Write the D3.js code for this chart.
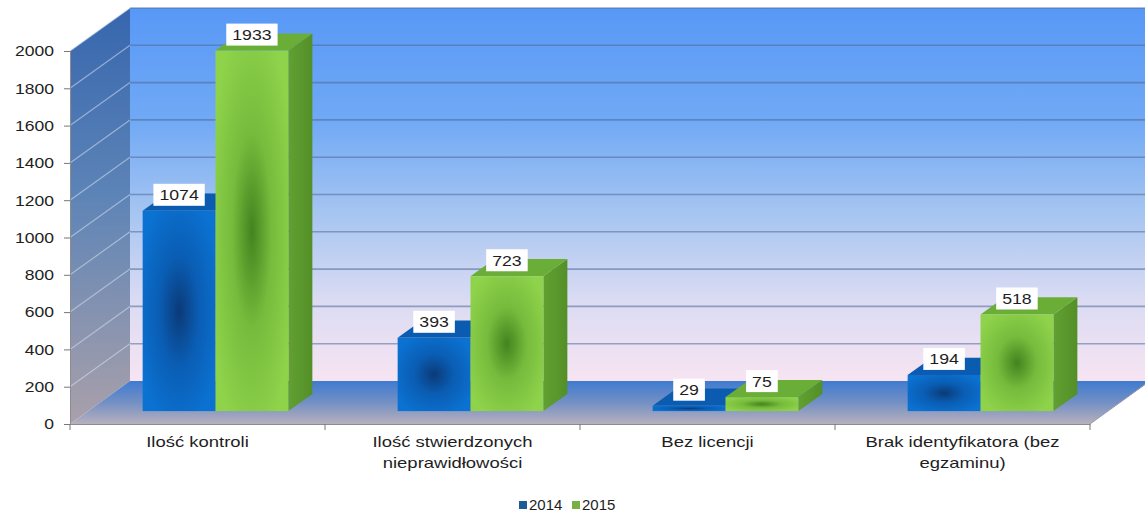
<!DOCTYPE html>
<html>
<head>
<meta charset="utf-8">
<script src="https://cdn.jsdelivr.net/npm/d3@7"></script>
<style>
  body { margin: 0; background: #fff; }
  svg { display: block; }
  text { font-family: "Liberation Sans", Arial, sans-serif; fill: #1e1e1e; }
</style>
</head>
<body>
<svg id="chart" width="1145" height="515"></svg>
<script>
// ---- data ----
const categories = ["Ilość kontroli", "Ilość stwierdzonych\nnieprawidłowości", "Bez licencji", "Brak identyfikatora (bez\negzaminu)"];
const seriesNames = ["2014", "2015"];
const values2014 = [1074, 393, 29, 194];
const values2015 = [1933, 723, 75, 518];
const yTicks = [0, 200, 400, 600, 800, 1000, 1200, 1400, 1600, 1800, 2000];

const seriesValues = { "2014": values2014, "2015": values2015 };

// ---- layout ----
const svg = d3.select("#chart");
const plot = { left: 70, right: 1090, bottom: 424, top: 51 };
const depthX = 60, depthY = -43;          // full depth of the 3D box
const barFront = 0.30, barBack = 0.70;    // bar depth as a fraction of the box

const x = d3.scaleBand().domain(categories).range([plot.left, plot.right]).padding(0);
const xs = d3.scaleBand().domain(seriesNames).range([0, x.bandwidth()]).paddingInner(0).paddingOuter(0.75);
const y = d3.scaleLinear().domain([0, 2000]).range([plot.bottom, plot.top]);

// project a point at depth d (0 = front plane, 1 = back wall)
const P = (px, py, d) => [px + depthX * d, py + depthY * d];
const poly = pts => pts.map(p => p.join(",")).join(" ");

// ---- gradients ----
const defs = svg.append("defs");
function linear(id, x1, y1, x2, y2, stops, units) {
  const g = defs.append("linearGradient").attr("id", id)
    .attr("gradientUnits", units || "userSpaceOnUse")
    .attr("x1", x1).attr("y1", y1).attr("x2", x2).attr("y2", y2);
  stops.forEach(([o, c]) => g.append("stop").attr("offset", o).attr("stop-color", c));
}
const backTop = P(0, y(2000), 1)[1], backBottom = P(0, y(0), 1)[1];
linear("backWall", 0, backTop, 0, backBottom,
  [[0, "#5898f6"], [0.3, "#70a9f5"], [0.55, "#a6c5f1"], [0.78, "#dadbf3"], [1, "#f7e4f2"]]);
linear("leftWall", 0, backTop, 0, plot.bottom,
  [[0, "#3766ae"], [0.45, "#5d84b7"], [1, "#aaa0aa"]]);
linear("floor", 0, backBottom, 0, plot.bottom,
  [[0, "#3f7bd0"], [0.5, "#7390c4"], [1, "#b8b0bc"]]);

function radial(id, inner, mid, outer) {
  const g = defs.append("radialGradient").attr("id", id)
    .attr("cx", 0.5).attr("cy", 0.5).attr("r", 0.6);
  g.append("stop").attr("offset", 0).attr("stop-color", inner);
  g.append("stop").attr("offset", 0.45).attr("stop-color", mid);
  g.append("stop").attr("offset", 1).attr("stop-color", outer);
}
radial("front2014", "#0b3a78", "#0a5db3", "#0b72d2");
radial("front2015", "#44831f", "#76bb3c", "#8fd34b");
linear("side2015", 0, 0, 1, 0, [[0, "#62a032"], [1, "#538f27"]], "objectBoundingBox");

const colors = {
  "2014": { front: "url(#front2014)", top: "#0b5cb0", side: "#0a4f98", legend: "#1f5a96" },
  "2015": { front: "url(#front2015)", top: "#6aae38", side: "url(#side2015)", legend: "#78b043" }
};

// ---- walls & floor ----
svg.append("polygon").attr("fill", "url(#backWall)")
  .attr("points", poly([P(plot.left, y(2000), 1), P(plot.right + 10, y(2000), 1), P(plot.right + 10, y(0), 1), P(plot.left, y(0), 1)]));
svg.append("polygon").attr("fill", "url(#leftWall)")
  .attr("points", poly([P(plot.left, y(2000), 0), P(plot.left, y(2000), 1), P(plot.left, y(0), 1), P(plot.left, y(0), 0)]));
svg.append("polygon").attr("fill", "url(#floor)")
  .attr("points", poly([P(plot.left, y(0), 0), P(plot.left, y(0), 1), P(plot.right, y(0), 1), P(plot.right, y(0), 0)]));

// gridlines on back wall and left wall
const grid = svg.append("g");
yTicks.filter(t => t > 0).forEach(t => {
  const a = P(plot.left, y(t), 1), b = P(plot.right + 10, y(t), 1), c = P(plot.left, y(t), 0);
  grid.append("line").attr("x1", a[0]).attr("y1", a[1]).attr("x2", b[0]).attr("y2", b[1])
    .attr("stroke", "#4f6a93").attr("stroke-opacity", 0.55).attr("stroke-width", 1.6);
  grid.append("line").attr("x1", c[0]).attr("y1", c[1]).attr("x2", a[0]).attr("y2", a[1])
    .attr("stroke", "#d6e2f2").attr("stroke-opacity", 0.55).attr("stroke-width", 1.2);
});

// ---- axes ----
const yAxis = svg.append("g").attr("transform", `translate(${plot.left},0)`)
  .call(d3.axisLeft(y).tickValues(yTicks).tickSize(6).tickPadding(10).tickFormat(d3.format("d")));
yAxis.select(".domain").attr("stroke", "#8c8c8c");
yAxis.selectAll(".tick line").attr("stroke", "#777");
yAxis.selectAll(".tick text").attr("font-size", 15).attr("fill", "#1e1e1e")
  .attr("font-family", "Liberation Sans, Arial, sans-serif")
  .attr("transform", "scale(1.17,1)").attr("x", -16 / 1.17);

const xAxis = svg.append("g").attr("transform", `translate(0,${plot.bottom})`)
  .call(d3.axisBottom(x).tickSize(0).tickFormat(""));
xAxis.select(".domain").attr("stroke", "#8c8c8c");
// category boundary ticks
categories.map(c => x(c)).concat([plot.right]).forEach(px => {
  xAxis.append("line").attr("x1", px).attr("x2", px).attr("y1", 0).attr("y2", 6).attr("stroke", "#777");
});
// floor right edge
const fr0 = P(plot.right, y(0), 0), fr1 = P(plot.right, y(0), 1);
svg.append("line").attr("x1", fr0[0]).attr("y1", fr0[1]).attr("x2", fr1[0]).attr("y2", fr1[1])
  .attr("stroke", "#9a9aa8").attr("stroke-width", 1);

// category labels
const catLabels = svg.append("g");
categories.forEach(c => {
  const cx = x(c) + x.bandwidth() / 2;
  const t = catLabels.append("text").attr("text-anchor", "middle").attr("font-size", 14)
    .attr("transform", `translate(${cx},447) scale(1.32,1)`);
  c.split("\n").forEach((line, i) => t.append("tspan").attr("x", 0).attr("dy", i === 0 ? 0 : 21).text(line));
});

// ---- bars ----
const bars = svg.append("g");
const labels = svg.append("g");
categories.forEach((c, ci) => {
  seriesNames.forEach(s => {
    const v = seriesValues[s][ci];
    const xl = x(c) + xs(s), xr = xl + xs.bandwidth();
    const col = colors[s];
    const fTL = P(xl, y(v), barFront), fTR = P(xr, y(v), barFront);
    const fBR = P(xr, y(0), barFront), fBL = P(xl, y(0), barFront);
    const bTL = P(xl, y(v), barBack), bTR = P(xr, y(v), barBack), bBR = P(xr, y(0), barBack);
    const g = bars.append("g");
    g.append("polygon").attr("fill", col.side).attr("points", poly([fTR, bTR, bBR, fBR]));
    g.append("polygon").attr("fill", col.top).attr("points", poly([fTL, fTR, bTR, bTL]));
    g.append("rect").attr("fill", col.front)
      .attr("x", fTL[0]).attr("y", fTL[1]).attr("width", fTR[0] - fTL[0]).attr("height", fBL[1] - fTL[1]);

    // value label box
    const lx = (fTL[0] + fTR[0]) / 2, ly = fTL[1] - 16;
    const lg = labels.append("g").attr("transform", `translate(${lx},${ly})`);
    const txt = lg.append("text").attr("text-anchor", "middle").attr("dy", "0.36em")
      .attr("font-size", 15).attr("transform", "scale(1.18,1)").text(d3.format("d")(v));
    const w = txt.node().getComputedTextLength() * 1.18 + 12;
    lg.insert("rect", "text").attr("x", -w / 2).attr("y", -11).attr("width", w).attr("height", 22)
      .attr("fill", "#fff");
  });
});

// ---- legend ----
const legend = svg.append("g").attr("transform", "translate(519,505)");
let legX = 0;
seriesNames.forEach(s => {
  const item = legend.append("g").attr("transform", `translate(${legX},0)`);
  item.append("rect").attr("x", 0).attr("y", -4).attr("width", 8).attr("height", 8).attr("fill", colors[s].legend);
  item.append("text").attr("x", 10).attr("y", 0).attr("dy", "0.36em").attr("font-size", 15).text(s);
  legX += 53;
});
</script>
</body>
</html>
